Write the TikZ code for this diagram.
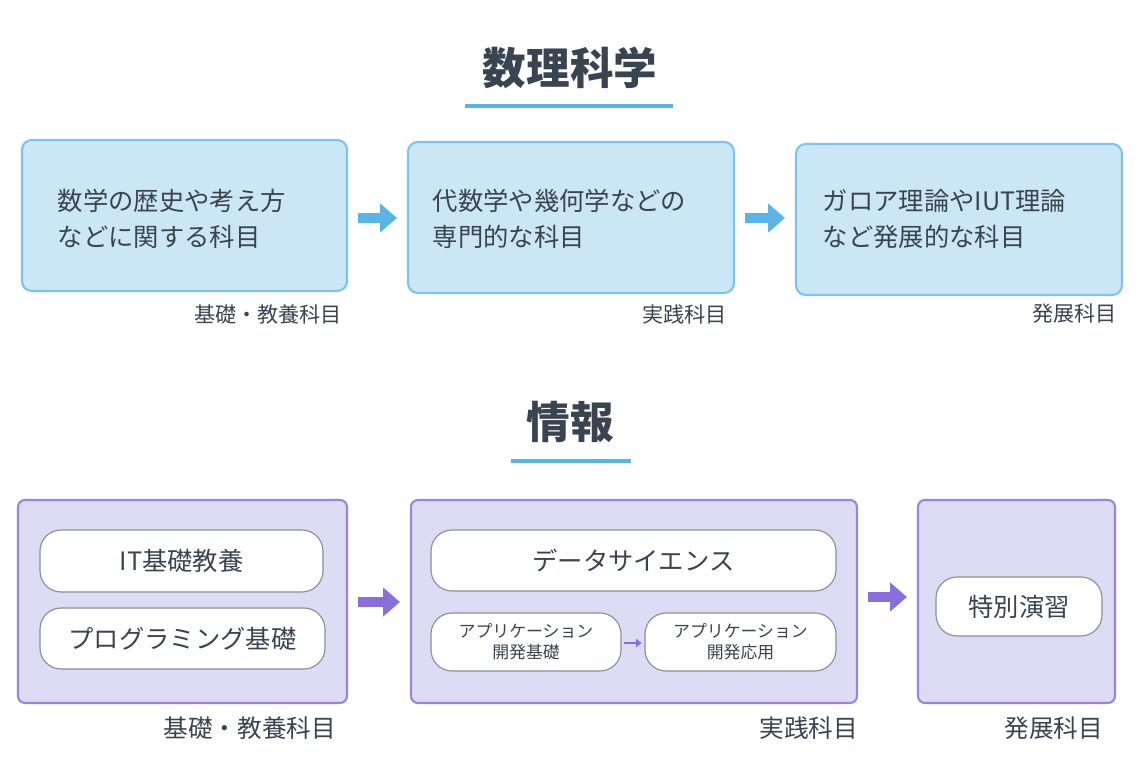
\documentclass[tikz,border=0pt]{standalone}
\usepackage{fontspec}
\setmainfont{Noto Sans CJK JP}
\usetikzlibrary{positioning, arrows.meta}
\definecolor{ink}{HTML}{3A4450}
\definecolor{bfill}{HTML}{CBE7F5}
\definecolor{bline}{HTML}{7FC4E8}
\definecolor{barrow}{HTML}{5AB4E5}
\definecolor{pfill}{HTML}{DEDBF4}
\definecolor{pline}{HTML}{9A85D8}
\definecolor{parrow}{HTML}{8A6FDB}
\tikzset{
    px/.style={x=0.025cm, y=-0.025cm},
    title/.style={text=ink, font=\fontsize{31}{36}\selectfont\bfseries},
    bluebox/.style={draw=bline, fill=bfill, line width=1.5pt, rounded corners=7pt, inner sep=0pt},
    purplebox/.style={draw=pline, fill=pfill, line width=1.5pt, rounded corners=5pt, inner sep=0pt},
    pill/.style={draw=ink!60, fill=white, line width=0.8pt, rounded corners=15pt, inner sep=0pt, text=ink, align=center},
    boxtext/.style={text=ink, font=\fontsize{18}{25.5}\selectfont, align=left, anchor=west},
    tag/.style={text=ink, anchor=east},
    arrb/.style={barrow, line width=7pt, -{Triangle[length=12pt, width=20pt]}, shorten <=10*0.025cm, shorten >=10*0.025cm},
    arrp/.style={parrow, line width=7pt, -{Triangle[length=12pt, width=20pt]}, shorten <=10*0.025cm, shorten >=10*0.025cm}
}
\begin{document}
\begin{tikzpicture}[px]
    \useasboundingbox[fill=white] (0,0) rectangle (1140,760);
    % 数理科学
    \node[title] (t1) at (570,68) {数理科学};
    \draw[barrow, line width=3pt] (465,106) -- (673,106);
    \node[bluebox, minimum width=325*0.025cm, minimum height=151*0.025cm] (m1) at (184.5,215.5) {};
    \node[bluebox, minimum width=326*0.025cm, minimum height=151*0.025cm] (m2) at (571,217.5) {};
    \node[bluebox, minimum width=326*0.025cm, minimum height=151*0.025cm] (m3) at (959,219.5) {};
    \node[boxtext] (m1t) at (53,219) {数学の歴史や考え方\\などに関する科目};
    \node[boxtext] (m2t) at (428,219) {代数学や幾何学などの\\専門的な科目};
    \node[boxtext] (m3t) at (818,219) {ガロア理論やIUT理論\\など発展的な科目};
    \draw[arrb] (m1.east |- 0,218) -- (m2.west |- 0,218);
    \draw[arrb] (m2.east |- 0,218) -- (m3.west |- 0,218);
    \node[tag, font=\fontsize{15}{17}\selectfont] (m1g) at (347,314) {基礎・教養科目};
    \node[tag, font=\fontsize{15}{17}\selectfont] (m2g) at (732,314) {実践科目};
    \node[tag, font=\fontsize{15}{17}\selectfont] (m3g) at (1122,314) {発展科目};
    % 情報
    \node[title] (t2) at (570,422) {情報};
    \draw[barrow, line width=3pt] (511,461) -- (631,461);
    \node[purplebox, minimum width=329*0.025cm, minimum height=203*0.025cm] (j1) at (182.5,601.5) {};
    \node[purplebox, minimum width=446*0.025cm, minimum height=203*0.025cm] (j2) at (634,601.5) {};
    \node[purplebox, minimum width=197*0.025cm, minimum height=203*0.025cm] (j3) at (1016.5,601.5) {};
    \node[pill, minimum width=283*0.025cm, minimum height=62*0.025cm, font=\fontsize{18}{20}\selectfont] (p1) at (181.5,561) {IT基礎教養};
    \node[pill, minimum width=285*0.025cm, minimum height=61*0.025cm, font=\fontsize{18}{20}\selectfont] (p2) at (182.5,638.5) {プログラミング基礎};
    \node[pill, minimum width=405*0.025cm, minimum height=61*0.025cm, font=\fontsize{18}{20}\selectfont] (p3) at (633.5,560.5) {データサイエンス};
    \node[pill, minimum width=190*0.025cm, minimum height=58*0.025cm, font=\fontsize{12}{15}\selectfont] (p4) at (526,642) {アプリケーション\\開発基礎};
    \node[pill, minimum width=191*0.025cm, minimum height=58*0.025cm, font=\fontsize{12}{15}\selectfont] (p5) at (740.5,642) {アプリケーション\\開発応用};
    \node[pill, minimum width=166*0.025cm, minimum height=59*0.025cm, font=\fontsize{18}{20}\selectfont] (p6) at (1019,606.5) {特別演習};
    \draw[parrow, line width=1.5pt, -{Triangle[length=4pt, width=6pt]}, shorten <=2pt, shorten >=2pt] (p4.east |- 0,643) -- (p5.west |- 0,643);
    \draw[arrp] (j1.east |- 0,602) -- (j2.west |- 0,602);
    \draw[arrp] (j2.east |- 0,597) -- (j3.west |- 0,597);
    \node[tag, font=\fontsize{17.5}{20}\selectfont] (j1g) at (341,728) {基礎・教養科目};
    \node[tag, font=\fontsize{17.5}{20}\selectfont] (j2g) at (863,728) {実践科目};
    \node[tag, font=\fontsize{17.5}{20}\selectfont] (j3g) at (1108,728) {発展科目};
\end{tikzpicture}
\end{document}
